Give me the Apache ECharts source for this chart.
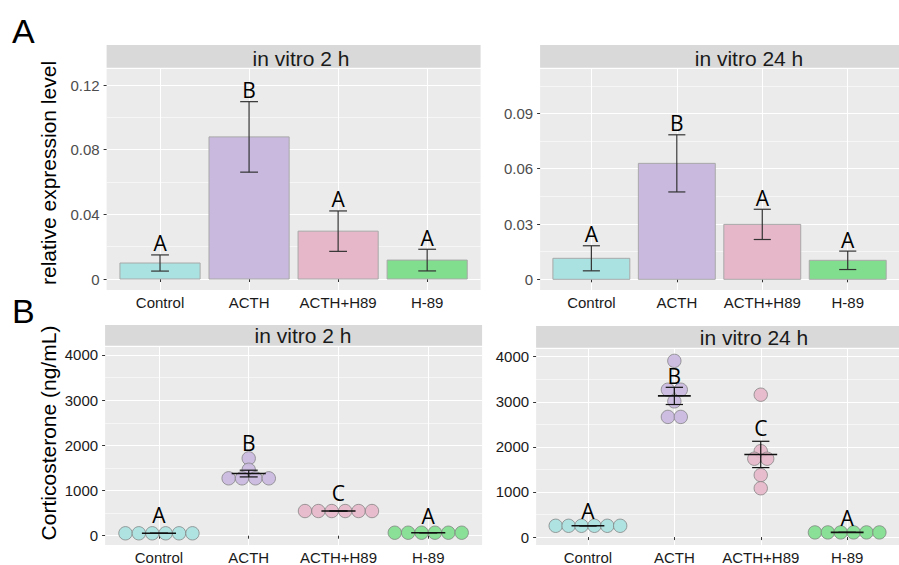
<!DOCTYPE html>
<html><head><meta charset="utf-8">
<script src="https://cdn.jsdelivr.net/npm/echarts@6/dist/echarts.min.js"></script>
<style>html,body{margin:0;padding:0;background:#fff}#c{width:899px;height:565px}</style>
</head><body><div id="c"></div>
<script>
// ---------------- data ----------------
const categories = ['Control', 'ACTH', 'ACTH+H89', 'H-89'];
const catPos = [1, 2, 3, 4];

// Panel A: relative expression level, mean and error
const exprMean2h = [0.0099, 0.0879, 0.0296, 0.0117];
const exprErr2h = [0.0050, 0.0218, 0.0125, 0.0067];
const exprLetters2h = ['A', 'B', 'A', 'A'];
const exprMean24h = [0.0114, 0.0629, 0.0298, 0.0103];
const exprErr24h = [0.0068, 0.0155, 0.0082, 0.0050];
const exprLetters24h = ['A', 'B', 'A', 'A'];
const exprTicks2h = [0, 0.04, 0.08, 0.12];
const exprTickLabels2h = ['0', '0.04', '0.08', '0.12'];
const exprMinor2h = [0.02, 0.06, 0.10];
const exprTicks24h = [0, 0.03, 0.06, 0.09];
const exprTickLabels24h = ['0', '0.03', '0.06', '0.09'];
const exprMinor24h = [0.015, 0.045, 0.075, 0.105];

// Panel B: corticosterone (ng/mL), individual values
const cortControl2h = [53, 53, 53, 53, 53, 53];
const cortACTH2h = [1712, 1460, 1270, 1270, 1270, 1270];
const cortACTHH89_2h = [546, 546, 546, 546, 546, 546];
const cortH89_2h = [66, 66, 66, 66, 66, 66];
const cortControl24h = [250, 250, 250, 250, 250, 250];
const cortACTH24h = [3907, 3267, 3267, 3009, 2664, 2664];
const cortACTHH89_24h = [3157, 1905, 1737, 1737, 1375, 1082];
const cortH89_24h = [103, 103, 103, 103, 103, 103];
const cortLetters2h = ['A', 'B', 'C', 'A'];
const cortLetterY2h = [280, 1870, 750, 237];
const cortLetters24h = ['A', 'B', 'C', 'A'];
const cortLetterY24h = [382, 3391, 2235, 227];
const cortTicks = [0, 1000, 2000, 3000, 4000];
const cortTickLabels = ['0', '1000', '2000', '3000', '4000'];
const cortMinor = [500, 1500, 2500, 3500];

// ---------------- styles ----------------
const fills = ['#A9E2E1', '#C9B9DF', '#E6B7C9', '#81DE8E'];
const SANS = '"Liberation Sans", Arial, sans-serif';
const LETTER = '"Open Sans", "Noto Sans", sans-serif';

const panels = [
  {kind: 'bar', left: 106.6, top: 69, width: 374, height: 221, ymin: -0.0068, ymax: 0.1299,
   mean: exprMean2h, err: exprErr2h, letters: exprLetters2h,
   ticks: exprTicks2h, tickLabels: exprTickLabels2h, minor: exprMinor2h, ylabColor: '#4d4d4d'},
  {kind: 'bar', left: 540.1, top: 69, width: 372.4, height: 221, ymin: -0.0058, ymax: 0.1141,
   mean: exprMean24h, err: exprErr24h, letters: exprLetters24h,
   ticks: exprTicks24h, tickLabels: exprTickLabels24h, minor: exprMinor24h, ylabColor: '#4d4d4d'},
  {kind: 'dot', left: 105.1, top: 347, width: 377, height: 198, ymin: -206, ymax: 4177,
   groups: [cortControl2h, cortACTH2h, cortACTHH89_2h, cortH89_2h], letters: cortLetters2h, letterY: cortLetterY2h,
   ticks: cortTicks, tickLabels: cortTickLabels, minor: cortMinor, ylabColor: '#1a1a1a'},
  {kind: 'dot', left: 536.1, top: 349, width: 377, height: 197, ymin: -176, ymax: 4170,
   groups: [cortControl24h, cortACTH24h, cortACTHH89_24h, cortH89_24h], letters: cortLetters24h, letterY: cortLetterY24h,
   ticks: cortTicks, tickLabels: cortTickLabels, minor: cortMinor, ylabColor: '#1a1a1a'}
];

function labelFor(ticks, labels) {
  return function (v) {
    for (let i = 0; i < ticks.length; i++) if (Math.abs(ticks[i] - v) < 1e-9 * Math.max(1, Math.abs(v)) + 1e-12) return labels[i];
    return '';
  };
}

const grid = [], xAxis = [], yAxis = [], series = [];

panels.forEach(function (p, g) {
  grid.push({left: p.left, top: p.top, width: p.width, height: p.height, show: true,
    backgroundColor: '#EBEBEB', borderWidth: 0, containLabel: false});
  xAxis.push({gridIndex: g, type: 'value', min: 0.4, max: 4.6,
    axisLine: {show: false},
    axisTick: {show: true, length: 3, customValues: catPos, lineStyle: {color: '#333', width: 1}},
    axisLabel: {show: true, customValues: catPos, margin: 5, fontSize: 15, fontFamily: SANS, color: '#1a1a1a',
      formatter: function (v) { return categories[Math.round(v) - 1] || ''; }},
    splitLine: {show: true, lineStyle: {color: '#ffffff', width: 1.1}}});
  yAxis.push({gridIndex: g, type: 'value', min: p.ymin, max: p.ymax,
    axisLine: {show: false},
    axisTick: {show: true, length: 3, customValues: p.ticks, lineStyle: {color: '#333', width: 1}},
    axisLabel: {show: true, customValues: p.ticks, margin: 7, fontSize: 15, fontFamily: SANS, color: p.ylabColor,
      formatter: labelFor(p.ticks, p.tickLabels)},
    splitLine: {show: true, lineStyle: {color: '#ffffff', width: 1.1}}});
  yAxis.push({gridIndex: g, type: 'value', min: p.ymin, max: p.ymax,
    axisLine: {show: false},
    axisTick: {show: false, customValues: p.minor},
    axisLabel: {show: false, customValues: p.minor},
    splitLine: {show: true, lineStyle: {color: '#ffffff', width: 0.55}}});

  const yIdx = 2 * g;
  if (p.kind === 'bar') {
    series.push({
      type: 'custom', xAxisIndex: g, yAxisIndex: yIdx, z: 3,
      data: categories.map(function (c, i) { return [catPos[i], p.mean[i], p.err[i]]; }),
      renderItem: function (params, api) {
        const i = params.dataIndex;
        const x = api.value(0), m = api.value(1), e = api.value(2);
        const a = api.coord([x - 0.45, m]), b = api.coord([x + 0.45, 0]);
        const t = api.coord([x, m + e]), d = api.coord([x, m - e]);
        const tl = api.coord([x - 0.1, m + e]), tr = api.coord([x + 0.1, m + e]);
        const bl = api.coord([x - 0.1, m - e]), br = api.coord([x + 0.1, m - e]);
        const es = {stroke: '#333333', lineWidth: 1.2};
        return {type: 'group', children: [
          {type: 'rect', shape: {x: a[0], y: a[1], width: b[0] - a[0], height: b[1] - a[1]},
            style: {fill: fills[i], stroke: '#a8a8a8', lineWidth: 1}},
          {type: 'line', shape: {x1: t[0], y1: t[1], x2: d[0], y2: d[1]}, style: es},
          {type: 'line', shape: {x1: tl[0], y1: tl[1], x2: tr[0], y2: tr[1]}, style: es},
          {type: 'line', shape: {x1: bl[0], y1: bl[1], x2: br[0], y2: br[1]}, style: es}
        ]};
      }
    });
    series.push({
      type: 'scatter', xAxisIndex: g, yAxisIndex: yIdx, z: 5, symbolSize: 0, silent: true,
      itemStyle: {opacity: 1},
      data: categories.map(function (c, i) { return [catPos[i], p.mean[i] + p.err[i], p.letters[i]]; }),
      label: {show: true, position: 'top', distance: 1, fontSize: 21, fontFamily: LETTER, color: '#000',
        textBorderWidth: 0, formatter: function (q) { return q.value[2]; }}
    });
  } else {
    const pxPerUnit = p.width / 4.2;
    const step = 13.4 / pxPerUnit;
    p.groups.forEach(function (vals, i) {
      const counts = {}, seen = {};
      vals.forEach(function (v) { counts[v] = (counts[v] || 0) + 1; });
      const pts = vals.map(function (v) {
        const k = counts[v]; const j = seen[v] || 0; seen[v] = j + 1;
        return [catPos[i] + (j - (k - 1) / 2) * step, v];
      });
      series.push({type: 'scatter', xAxisIndex: g, yAxisIndex: yIdx, z: 2, symbolSize: 13.4, data: pts,
        itemStyle: {color: fills[i], borderColor: '#7d7d7d', borderWidth: 0.8, opacity: 0.92}});
    });
    const stats = p.groups.map(function (vals, i) {
      const n = vals.length;
      const m = vals.reduce(function (s, v) { return s + v; }, 0) / n;
      const sd = Math.sqrt(vals.reduce(function (s, v) { return s + (v - m) * (v - m); }, 0) / (n - 1));
      return [catPos[i], m, sd / Math.sqrt(n)];
    });
    series.push({
      type: 'custom', xAxisIndex: g, yAxisIndex: yIdx, z: 4, data: stats,
      renderItem: function (params, api) {
        const x = api.value(0), m = api.value(1), e = api.value(2);
        const ml = api.coord([x - 0.19, m]), mr = api.coord([x + 0.19, m]);
        const t = api.coord([x, m + e]), d = api.coord([x, m - e]);
        const tl = api.coord([x - 0.1, m + e]), tr = api.coord([x + 0.1, m + e]);
        const bl = api.coord([x - 0.1, m - e]), br = api.coord([x + 0.1, m - e]);
        const es = {stroke: '#111', lineWidth: 1.2};
        return {type: 'group', children: [
          {type: 'line', shape: {x1: ml[0], y1: ml[1], x2: mr[0], y2: mr[1]}, style: {stroke: '#111', lineWidth: 1.6}},
          {type: 'line', shape: {x1: t[0], y1: t[1], x2: d[0], y2: d[1]}, style: es},
          {type: 'line', shape: {x1: tl[0], y1: tl[1], x2: tr[0], y2: tr[1]}, style: es},
          {type: 'line', shape: {x1: bl[0], y1: bl[1], x2: br[0], y2: br[1]}, style: es}
        ]};
      }
    });
    series.push({
      type: 'scatter', xAxisIndex: g, yAxisIndex: yIdx, z: 5, symbolSize: 0, silent: true,
      itemStyle: {opacity: 1},
      data: categories.map(function (c, i) { return [catPos[i], p.letterY[i], p.letters[i]]; }),
      label: {show: true, position: 'top', distance: -2, fontSize: 21, fontFamily: LETTER, color: '#000',
        textBorderWidth: 0, formatter: function (q) { return q.value[2]; }}
    });
  }
});

const stripStyle = {fill: '#D9D9D9'};
const graphic = [
  {type: 'text', x: 12, y: 30.5, style: {text: 'A', fontSize: 34, fontFamily: SANS, fill: '#000', align: 'left', verticalAlign: 'middle'}},
  {type: 'text', x: 12, y: 310.5, style: {text: 'B', fontSize: 34, fontFamily: SANS, fill: '#000', align: 'left', verticalAlign: 'middle'}},
  {type: 'rect', shape: {x: 106.6, y: 45, width: 374, height: 22.7}, style: stripStyle, z: -1},
  {type: 'rect', shape: {x: 540.1, y: 45, width: 372.4, height: 22.7}, style: stripStyle, z: -1},
  {type: 'rect', shape: {x: 105.1, y: 325, width: 377, height: 20.7}, style: stripStyle, z: -1},
  {type: 'rect', shape: {x: 536.1, y: 326, width: 377, height: 21.7}, style: stripStyle, z: -1},
  {type: 'text', x: 301, y: 58.2, style: {text: 'in vitro 2 h', fontSize: 21, fontFamily: SANS, fill: '#1a1a1a', align: 'center', verticalAlign: 'middle'}},
  {type: 'text', x: 749, y: 58.2, style: {text: 'in vitro 24 h', fontSize: 21, fontFamily: SANS, fill: '#1a1a1a', align: 'center', verticalAlign: 'middle'}},
  {type: 'text', x: 303, y: 335.8, style: {text: 'in vitro 2 h', fontSize: 21, fontFamily: SANS, fill: '#1a1a1a', align: 'center', verticalAlign: 'middle'}},
  {type: 'text', x: 754, y: 337.5, style: {text: 'in vitro 24 h', fontSize: 21, fontFamily: SANS, fill: '#1a1a1a', align: 'center', verticalAlign: 'middle'}},
  {type: 'text', x: 48, y: 173, rotation: Math.PI / 2, style: {text: 'relative expression level', fontSize: 21, fontFamily: SANS, fill: '#000', align: 'center', verticalAlign: 'middle'}},
  {type: 'text', x: 48, y: 433, rotation: Math.PI / 2, style: {text: 'Corticosterone (ng/mL)', fontSize: 21, fontFamily: SANS, fill: '#000', align: 'center', verticalAlign: 'middle'}}
];

const chart = echarts.init(document.getElementById('c'), null, {renderer: 'svg', width: 899, height: 565});
chart.setOption({animation: false, backgroundColor: '#ffffff', grid: grid, xAxis: xAxis, yAxis: yAxis, series: series, graphic: graphic});
</script></body></html>
